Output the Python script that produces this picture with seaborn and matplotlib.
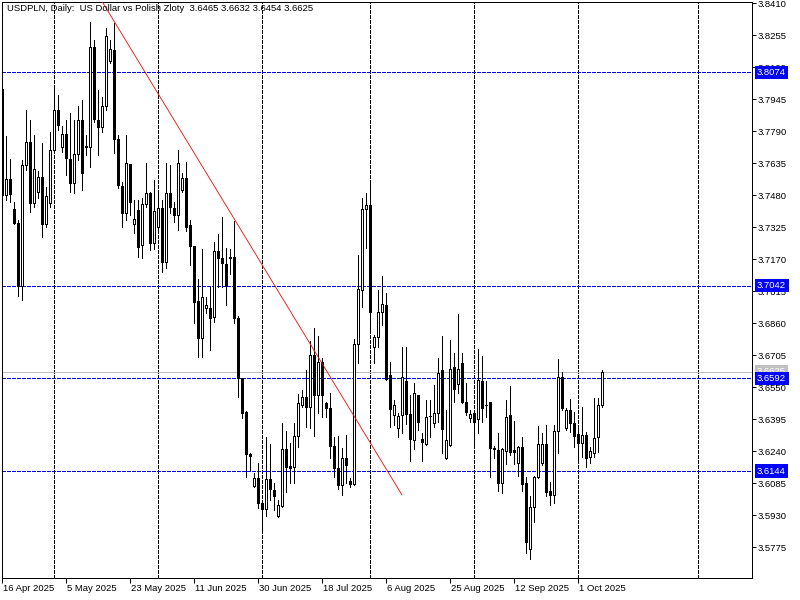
import numpy as np
import pandas as pd
import matplotlib
matplotlib.use("Agg")
import matplotlib.pyplot as plt
import matplotlib.transforms as mtransforms
import seaborn as sns

# -------------------------------
# Daily USDPLN bars (left to right)
# -------------------------------
opens = [3.7994, 3.7481, 3.7558, 3.7413, 3.7345, 3.7040, 3.7626, 3.7737, 3.7442, 3.7495,
         3.7568, 3.7340, 3.7442, 3.7698, 3.7892, 3.7713, 3.7776, 3.7655, 3.7539, 3.7679,
         3.7844, 3.7718, 3.7713, 3.8197, 3.7844, 3.7810, 3.7911, 3.8129, 3.8182, 3.7752,
         3.7524, 3.7393, 3.7631, 3.7340, 3.7408, 3.7238, 3.7437, 3.7490, 3.7248, 3.7326,
         3.7418, 3.7156, 3.7490, 3.7418, 3.7384, 3.7505, 3.7563, 3.7335, 3.7234, 3.6967,
         3.6788, 3.6933, 3.6933, 3.6890, 3.7209, 3.7176, 3.7147, 3.7180, 3.7180, 3.6885,
         3.6595, 3.6430, 3.6227, 3.6072, 3.6111, 3.5989, 3.5960, 3.6106, 3.6053, 3.5926,
         3.5975, 3.6251, 3.6169, 3.6164, 3.6314, 3.6464, 3.6503, 3.6454, 3.6706, 3.6512,
         3.6672, 3.6473, 3.6449, 3.6266, 3.6159, 3.6077, 3.6207, 3.6096, 3.6082, 3.6759,
         3.7021, 3.7413, 3.7432, 3.6745, 3.6793, 3.6914, 3.6948, 3.6609, 3.6415, 3.6352,
         3.6415, 3.6580, 3.6420, 3.6295, 3.6512, 3.6299, 3.6275, 3.6410, 3.6377, 3.6425,
         3.6633, 3.6207, 3.6270, 3.6648, 3.6566, 3.6667, 3.6478, 3.6401, 3.6425, 3.6396,
         3.6580, 3.6464, 3.6478, 3.6256, 3.6246, 3.6087, 3.6241, 3.6415, 3.6246, 3.6183,
         3.6261, 3.6087, 3.5767, 3.5970, 3.6116, 3.6183, 3.6275, 3.6048, 3.6028, 3.6338,
         3.6600, 3.6352, 3.6440, 3.6377, 3.6324, 3.6280, 3.6319, 3.6212, 3.6232, 3.6309,
         3.6465]
highs = [3.7999, 3.7766, 3.7655, 3.7447, 3.7359, 3.7650, 3.7892, 3.7844, 3.7771, 3.7597,
         3.7732, 3.7519, 3.7786, 3.7999, 3.7965, 3.7815, 3.7844, 3.7877, 3.7844, 3.7911,
         3.7940, 3.7771, 3.8318, 3.8231, 3.7989, 3.7955, 3.8289, 3.8231, 3.8313, 3.7771,
         3.7543, 3.7771, 3.7631, 3.7456, 3.7456, 3.7466, 3.7635, 3.7495, 3.7553, 3.7490,
         3.7456, 3.7635, 3.7626, 3.7447, 3.7698, 3.7587, 3.7640, 3.7359, 3.7234, 3.7074,
         3.7219, 3.6987, 3.7035, 3.7253, 3.7292, 3.7374, 3.7224, 3.7219, 3.7355, 3.6895,
         3.6595, 3.6435, 3.6232, 3.6135, 3.6183, 3.5989, 3.6309, 3.6275, 3.6087, 3.6004,
         3.6377, 3.6338, 3.6280, 3.6377, 3.6517, 3.6537, 3.6633, 3.6774, 3.6837, 3.6798,
         3.6691, 3.6478, 3.6522, 3.6309, 3.6314, 3.6256, 3.6319, 3.6111, 3.6783, 3.7190,
         3.7466, 3.7490, 3.7543, 3.6803, 3.7021, 3.7088, 3.7006, 3.6672, 3.6488, 3.6425,
         3.6745, 3.6745, 3.6512, 3.6570, 3.6512, 3.6328, 3.6488, 3.6488, 3.6561, 3.6691,
         3.6798, 3.6440, 3.6779, 3.6716, 3.6904, 3.6716, 3.6570, 3.6440, 3.6440, 3.6735,
         3.6701, 3.6580, 3.6478, 3.6266, 3.6328, 3.6256, 3.6488, 3.6556, 3.6386, 3.6266,
         3.6309, 3.6116, 3.6024, 3.6120, 3.6362, 3.6328, 3.6367, 3.6091, 3.6367, 3.6687,
         3.6624, 3.6449, 3.6493, 3.6430, 3.6367, 3.6454, 3.6333, 3.6261, 3.6498, 3.6498,
         3.6632]
lows = [3.7466, 3.7456, 3.7447, 3.7340, 3.6992, 3.6972, 3.7601, 3.7398, 3.7422, 3.7466,
        3.7277, 3.7326, 3.7422, 3.7684, 3.7795, 3.7689, 3.7577, 3.7495, 3.7490, 3.7650,
        3.7505, 3.7674, 3.7616, 3.7834, 3.7674, 3.7786, 3.7892, 3.8120, 3.7684, 3.7514,
        3.7326, 3.7359, 3.7384, 3.7297, 3.7180, 3.7176, 3.7422, 3.7214, 3.7219, 3.7297,
        3.7108, 3.7127, 3.7393, 3.7350, 3.7311, 3.7495, 3.7306, 3.7142, 3.6861, 3.6696,
        3.6696, 3.6909, 3.6730, 3.6866, 3.7035, 3.7035, 3.6948, 3.7098, 3.6861, 3.6503,
        3.6401, 3.6116, 3.6149, 3.6067, 3.5965, 3.5859, 3.5926, 3.6004, 3.5955, 3.5922,
        3.5970, 3.6043, 3.6087, 3.6087, 3.6261, 3.6454, 3.6357, 3.6352, 3.6314, 3.6425,
        3.6406, 3.6406, 3.6207, 3.6116, 3.6058, 3.6028, 3.6087, 3.6067, 3.6077, 3.6667,
        3.6938, 3.7224, 3.6822, 3.6667, 3.6745, 3.6851, 3.6585, 3.6357, 3.6367, 3.6309,
        3.6328, 3.6372, 3.6193, 3.6251, 3.6343, 3.6193, 3.6270, 3.6309, 3.6357, 3.6381,
        3.6232, 3.6203, 3.6266, 3.6478, 3.6522, 3.6473, 3.6415, 3.6381, 3.6256, 3.6328,
        3.6381, 3.6406, 3.6116, 3.6207, 3.6048, 3.6038, 3.6178, 3.6222, 3.6178, 3.6120,
        3.6048, 3.5747, 3.5718, 3.5898, 3.6111, 3.6174, 3.6024, 3.5980, 3.5989, 3.6232,
        3.6440, 3.6343, 3.6333, 3.6261, 3.6183, 3.6212, 3.6164, 3.6183, 3.6212, 3.6236,
        3.6454]
closes = [3.7481, 3.7558, 3.7485, 3.7345, 3.7040, 3.7626, 3.7737, 3.7442, 3.7606, 3.7568,
          3.7340, 3.7476, 3.7698, 3.7892, 3.7819, 3.7776, 3.7660, 3.7539, 3.7679, 3.7844,
          3.7587, 3.7713, 3.8197, 3.7848, 3.7810, 3.7911, 3.8250, 3.8187, 3.7752, 3.7529,
          3.7393, 3.7635, 3.7447, 3.7364, 3.7229, 3.7437, 3.7490, 3.7248, 3.7403, 3.7418,
          3.7156, 3.7490, 3.7422, 3.7384, 3.7635, 3.7563, 3.7326, 3.7234, 3.6962, 3.6788,
          3.6987, 3.6948, 3.6885, 3.7209, 3.7176, 3.7151, 3.7040, 3.7176, 3.6885, 3.6595,
          3.6425, 3.6227, 3.6217, 3.6111, 3.5989, 3.5960, 3.6106, 3.6058, 3.6024, 3.5980,
          3.6251, 3.6164, 3.6159, 3.6314, 3.6473, 3.6503, 3.6454, 3.6706, 3.6512, 3.6672,
          3.6512, 3.6449, 3.6266, 3.6159, 3.6077, 3.6207, 3.6174, 3.6082, 3.6759, 3.7026,
          3.7413, 3.7432, 3.6914, 3.6793, 3.6914, 3.6953, 3.6590, 3.6444, 3.6464, 3.6410,
          3.6600, 3.6420, 3.6299, 3.6522, 3.6381, 3.6285, 3.6406, 3.6408, 3.6425, 3.6619,
          3.6348, 3.6295, 3.6638, 3.6541, 3.6638, 3.6478, 3.6430, 3.6420, 3.6381, 3.6585,
          3.6449, 3.6462, 3.6256, 3.6251, 3.6087, 3.6251, 3.6406, 3.6236, 3.6236, 3.6261,
          3.6082, 3.5801, 3.5970, 3.6116, 3.6275, 3.6275, 3.6043, 3.6028, 3.6338, 3.6600,
          3.6449, 3.6440, 3.6377, 3.6314, 3.6280, 3.6319, 3.6207, 3.6241, 3.6304, 3.6464,
          3.6625]

date_labels = ["16 Apr 2025", "5 May 2025", "23 May 2025", "11 Jun 2025", "30 Jun 2025",
               "18 Jul 2025", "6 Aug 2025", "25 Aug 2025", "12 Sep 2025", "1 Oct 2025"]
date_label_bars = [0, 16, 32, 48, 64, 80, 96, 112, 128, 144]
month_start_bars = [13, 39, 65, 92, 118, 144, 174]

price_ticks = [3.5775, 3.5930, 3.6085, 3.6240, 3.6395, 3.6550, 3.6705, 3.6860, 3.7015,
               3.7170, 3.7325, 3.7480, 3.7635, 3.7790, 3.7945, 3.8100, 3.8255, 3.8410]
level_prices = [3.8074, 3.7042, 3.6592, 3.6144]
last_price = 3.6625

trend_bars = [25.0, 99.9]
trend_prices = [3.8415, 3.6028]

title = "USDPLN, Daily:  US Dollar vs Polish Zloty  3.6465 3.6632 3.6454 3.6625"

# -------------------------------
# Style
# -------------------------------
sns.set_style("white")
plt.rcParams['font.family'] = ['Liberation Sans', 'DejaVu Sans']
LW = 0.72  # ~1 px at 100 dpi
BLUE = "#0000ff"
DASH = (0, (3, 2))

df = pd.DataFrame({"open": opens, "high": highs, "low": lows, "close": closes})
df["bar"] = np.arange(len(df))
df["bull"] = df["close"] >= df["open"]
df["body_low"] = df[["open", "close"]].min(axis=1)
df["body_h"] = (df["close"] - df["open"]).abs().clip(lower=0.00005)

fig = plt.figure(figsize=(8, 6), dpi=100)
ax = fig.add_axes([2 / 800, 22 / 600, 750 / 800, 576 / 600])
ax.set_facecolor("white")

# monthly grid (vertical) and horizontal level lines
for b in month_start_bars:
    ax.axvline(b, color="black", lw=LW, ls=DASH, zorder=1, antialiased=False)
for p in level_prices:
    ax.axhline(p, color=BLUE, lw=LW, ls=DASH, zorder=1, antialiased=False)
ax.axhline(last_price, color="#c0c0c0", lw=LW, zorder=1, antialiased=False)

# candles
ax.vlines(df["bar"], df["low"], df["high"], color="black", lw=LW, zorder=2, antialiased=False)
ax.bar(df["bar"], df["body_h"], bottom=df["body_low"], width=0.5,
       color=np.where(df["bull"], "white", "black"), edgecolor="black",
       linewidth=LW, zorder=3, antialiased=False)

# trend line
ax.plot(trend_bars, trend_prices, color="red", lw=0.6, zorder=4)

ax.set_xlim(-0.1, 187.4)
ax.set_ylim(3.5626, 3.8415)

# axes and ticks
for s in ax.spines.values():
    s.set_color("black")
    s.set_linewidth(LW)
ax.yaxis.tick_right()
ax.set_yticks(price_ticks)
ax.set_yticklabels([f"{t:.4f}" for t in price_ticks])
ax.set_xticks(date_label_bars)
ax.set_xticklabels(date_labels, ha="left")
ax.tick_params(axis="y", which="both", right=True, left=False, direction="out",
               length=3, width=LW, pad=1, labelsize=6.8, colors="black")
ax.tick_params(axis="x", which="both", bottom=True, direction="out",
               length=3.5, width=LW, pad=1, labelsize=6.8, colors="black")
for lab in ax.get_xticklabels():
    lab.set_transform(lab.get_transform() + mtransforms.ScaledTranslation(1 / 100, 0, fig.dpi_scale_trans))

# price boxes on the right axis
tr = mtransforms.blended_transform_factory(ax.transAxes, ax.transData)
ax.text(1.0067, last_price, f"{last_price:.4f}", transform=tr, ha="left", va="center",
        fontsize=6.8, color="white", zorder=10, clip_on=False,
        bbox=dict(boxstyle="square,pad=0.25", fc="#c0c0c0", ec="none"))
for p in level_prices:
    ax.text(1.0067, p, f"{p:.4f}", transform=tr, ha="left", va="center",
            fontsize=6.8, color="white", zorder=11, clip_on=False,
            bbox=dict(boxstyle="square,pad=0.25", fc=BLUE, ec="none"))

fig.text(7 / 800, 1 - 4 / 600, title, ha="left", va="top", fontsize=6.8, color="black")

fig.savefig("out.png", dpi=100, facecolor="white")
